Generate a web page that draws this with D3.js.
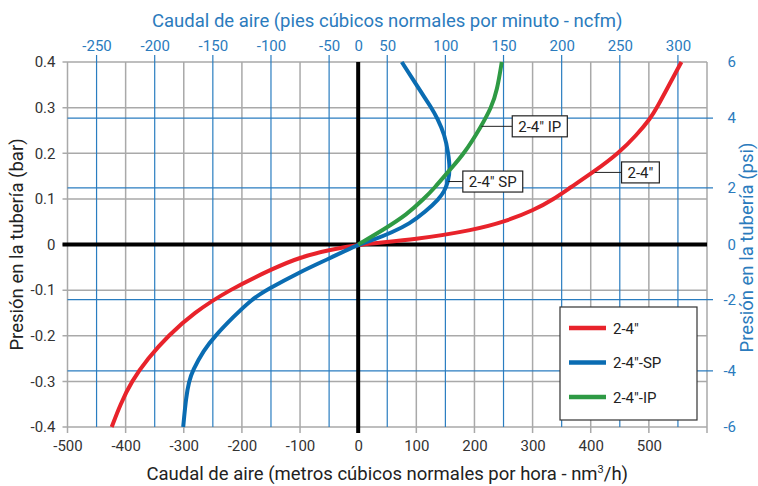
<!DOCTYPE html>
<html>
<head>
<meta charset="utf-8">
<title>Caudal de aire</title>
<script src="https://cdn.jsdelivr.net/npm/d3@7/dist/d3.min.js"></script>
<style>
  body { margin: 0; background: #fff; }
  svg { display: block; font-family: Roboto, "Open Sans", sans-serif; }
</style>
</head>
<body>
<svg id="chart" width="758" height="486"></svg>
<script>
// flow in nm3/h, pressure in bar
const redFlow = [-424, -409, -390, -362, -327, -283, -223, -142, -100, -50, 0, 100, 200, 252, 302, 337, 364, 406, 448, 479, 503, 514, 535, 556];
const redBar  = [-0.4, -0.35, -0.3, -0.25, -0.2, -0.15, -0.1, -0.05, -0.028, -0.012, 0, 0.011, 0.032, 0.05, 0.075, 0.1, 0.124, 0.16, 0.2, 0.24, 0.277, 0.3, 0.35, 0.4];

const blueFlow = [-301, -296, -291, -285, -266, -246, -215, -183, -158, -100, -50, 0, 30, 57, 88, 116, 139, 148, 155, 158, 155, 149, 136, 126, 106, 75];
const blueBar  = [-0.4, -0.334, -0.3, -0.277, -0.232, -0.2, -0.159, -0.12, -0.1, -0.06, -0.031, 0, 0.012, 0.026, 0.045, 0.072, 0.1, 0.116, 0.138, 0.167, 0.2, 0.24, 0.277, 0.3, 0.338, 0.4];

const greenFlow = [0, 44, 84, 113, 132, 155, 183, 212, 229, 239, 247];
const greenBar  = [0, 0.033, 0.066, 0.1, 0.125, 0.16, 0.2, 0.26, 0.3, 0.338, 0.4];

const seriesNames = ["2-4″", "2-4″-SP", "2-4″-IP"];
const seriesColors = ["#e8232b", "#0a6cb2", "#2e9a44"];

const bottomTicks = [-500, -400, -300, -200, -100, 0, 100, 200, 300, 400, 500];
const leftTicks = [-0.4, -0.3, -0.2, -0.1, 0, 0.1, 0.2, 0.3, 0.4];
// top axis (ncfm) labels sit on the blue gridlines
const topTickFlow = [-450, -350, -250, -150, -50, 0, 50, 150, 250, 350, 450, 550];
const topTickLabels = ["-250", "-200", "-150", "-100", "-50", "0", "50", "100", "150", "200", "250", "300"];
// right axis (psi) labels sit on the blue gridlines
const rightTickBar = [0.4, 0.277, 0.124, 0, -0.121, -0.277, -0.4];
const rightTickLabels = ["6", "4", "2", "0", "-2", "-4", "-6"];

const calloutText = ["2-4″ IP", "2-4″ SP", "2-4″"];
const calloutFrom = [[212, 0.259], [155, 0.138], [407, 0.158]];
const calloutBox = [[265, 0.259], [180, 0.138], [453, 0.158]];

const svg = d3.select("#chart");
const m = {left: 67.5, right: 707, top: 62, bottom: 427};

const x = d3.scaleLinear().domain([-500, 600]).range([m.left, m.right]);
const y = d3.scaleLinear().domain([-0.4, 0.4]).range([m.bottom, m.top]);

const grey = "#a9a9a9", gridBlue = "#2a7dc0", textBlue = "#2b7bbd", dark = "#333";

// grey grid
svg.append("g").selectAll("line").data(bottomTicks.concat([600])).join("line")
  .attr("x1", d => x(d)).attr("x2", d => x(d))
  .attr("y1", m.top).attr("y2", m.bottom + 6)
  .attr("stroke", grey).attr("stroke-width", 1.5);
svg.append("g").selectAll("line").data(leftTicks).join("line")
  .attr("x1", m.left - 5).attr("x2", m.right)
  .attr("y1", d => y(d)).attr("y2", d => y(d))
  .attr("stroke", grey).attr("stroke-width", 1.5);

// blue grid
svg.append("g").selectAll("line").data(topTickFlow.filter(d => d !== 0)).join("line")
  .attr("x1", d => x(d)).attr("x2", d => x(d))
  .attr("y1", m.top - 7).attr("y2", m.bottom)
  .attr("stroke", gridBlue).attr("stroke-width", 1.2);
svg.append("g").selectAll("line").data(rightTickBar.filter(d => d !== 0 && Math.abs(d) < 0.4)).join("line")
  .attr("x1", m.left).attr("x2", m.right + 6)
  .attr("y1", d => y(d)).attr("y2", d => y(d))
  .attr("stroke", gridBlue).attr("stroke-width", 1.2);

// zero axes
svg.append("line").attr("x1", x(0)).attr("x2", x(0)).attr("y1", m.top).attr("y2", m.bottom + 6)
  .attr("stroke", "#000").attr("stroke-width", 4);
svg.append("line").attr("x1", m.left - 5).attr("x2", m.right).attr("y1", y(0)).attr("y2", y(0))
  .attr("stroke", "#000").attr("stroke-width", 4);

// axis labels
const bottomAxis = svg.append("g").attr("transform", `translate(0,${m.bottom})`)
  .call(d3.axisBottom(x).tickValues(bottomTicks).tickSize(0).tickPadding(13).tickFormat(d => String(d)));
const leftAxis = svg.append("g").attr("transform", `translate(${m.left},0)`)
  .call(d3.axisLeft(y).tickValues(leftTicks).tickSize(0).tickPadding(12).tickFormat(d => String(d)));
const topAxis = svg.append("g").attr("transform", `translate(0,${m.top})`)
  .call(d3.axisTop(x).tickValues(topTickFlow).tickSize(0).tickPadding(11).tickFormat((d, i) => topTickLabels[i]));
const rightAxis = svg.append("g").attr("transform", `translate(${m.right},0)`)
  .call(d3.axisRight(y).tickValues(rightTickBar).tickSize(0).tickPadding(29).tickFormat((d, i) => rightTickLabels[i]));

[bottomAxis, leftAxis, topAxis, rightAxis].forEach(g => {
  g.select(".domain").remove();
  g.selectAll("text").attr("font-size", 15).attr("font-family", "Roboto, sans-serif");
});
bottomAxis.selectAll("text").attr("fill", dark);
leftAxis.selectAll("text").attr("fill", dark);
topAxis.selectAll("text").attr("fill", textBlue);
rightAxis.selectAll("text").attr("fill", textBlue).attr("text-anchor", "end");

// titles
svg.append("text").attr("x", (m.left + m.right) / 2).attr("y", 27)
  .attr("text-anchor", "middle").attr("font-size", 18.5).attr("fill", textBlue)
  .text("Caudal de aire (pies cúbicos normales por minuto - ncfm)");
const bt = svg.append("text").attr("x", (m.left + m.right) / 2).attr("y", 480)
  .attr("text-anchor", "middle").attr("font-size", 18.5).attr("fill", "#222");
bt.append("tspan").text("Caudal de aire (metros cúbicos normales por hora - nm");
bt.append("tspan").attr("font-size", 11).attr("dy", -7).text("3");
bt.append("tspan").attr("dy", 7).text("/h)");
svg.append("text").attr("transform", `translate(23,${(m.top + m.bottom) / 2}) rotate(-90)`)
  .attr("text-anchor", "middle").attr("font-size", 18.5).attr("fill", "#222")
  .text("Presión en la tubería (bar)");
svg.append("text").attr("transform", `translate(753,${(m.top + m.bottom) / 2 + 3}) rotate(-90)`)
  .attr("text-anchor", "middle").attr("font-size", 18.5).attr("fill", textBlue)
  .text("Presión en la tubería (psi)");

// curves
const line = d3.line().x(d => x(d[0])).y(d => y(d[1])).curve(d3.curveBasis);
const series = [
  d3.zip(redFlow, redBar),
  d3.zip(blueFlow, blueBar),
  d3.zip(greenFlow, greenBar)
];
svg.append("g").selectAll("path").data(series).join("path")
  .attr("d", line).attr("fill", "none")
  .attr("stroke", (d, i) => seriesColors[i]).attr("stroke-width", 4);

// callouts
calloutText.forEach((t, i) => {
  const [fx, fy] = calloutFrom[i], [bx, by] = calloutBox[i];
  svg.append("line").attr("x1", x(fx)).attr("x2", x(bx)).attr("y1", y(fy)).attr("y2", y(by))
    .attr("stroke", "#222").attr("stroke-width", 1);
  const g = svg.append("g");
  const rect = g.append("rect").attr("fill", "#fff").attr("stroke", "#222").attr("stroke-width", 1.2);
  const txt = g.append("text").attr("x", x(bx) + 6).attr("y", y(by) + 5.5)
    .attr("font-size", 15).attr("fill", "#222").text(t);
  const w = txt.node().getComputedTextLength();
  rect.attr("x", x(bx)).attr("y", y(by) - 10.5).attr("width", w + 12).attr("height", 21);
});

// legend
const lg = svg.append("g").attr("transform", "translate(560,307)");
lg.append("rect").attr("width", 137).attr("height", 113).attr("fill", "#fff")
  .attr("stroke", "#333").attr("stroke-width", 1.2);
seriesNames.forEach((name, i) => {
  const ly = 21 + i * 34.5;
  lg.append("line").attr("x1", 9).attr("x2", 46).attr("y1", ly).attr("y2", ly)
    .attr("stroke", seriesColors[i]).attr("stroke-width", 4.5);
  lg.append("text").attr("x", 53).attr("y", ly + 5.5).attr("font-size", 15).attr("fill", "#222").text(name);
});
</script>
</body>
</html>
